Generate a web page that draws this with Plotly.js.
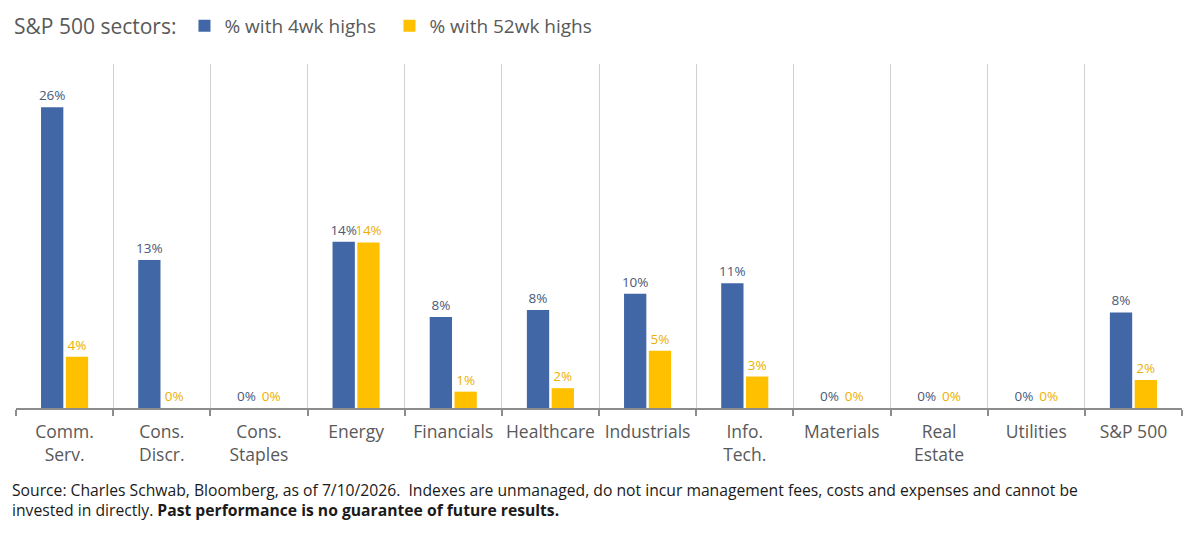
<!DOCTYPE html>
<html>
<head>
<meta charset="utf-8">
<script src="https://cdn.plot.ly/plotly-3.0.1.min.js"></script>
<style>html,body{margin:0;padding:0;background:#fff;}#chart{width:1200px;height:538px;}</style>
</head>
<body>
<div id="chart"></div>
<script>
const categories = ["Comm.<br>Serv.", "Cons.<br>Discr.", "Cons.<br>Staples", "Energy", "Financials", "Healthcare", "Industrials", "Info.<br>Tech.", "Materials", "Real<br>Estate", "Utilities", "S&P 500"];
const pct4wk = [25.8, 12.7, 0, 14.25, 7.8, 8.4, 9.8, 10.7, 0, 0, 0, 8.2];
const pct52wk = [4.4, 0, 0, 14.2, 1.4, 1.7, 4.9, 2.7, 0, 0, 0, 2.4];
const seriesNames = ["% with 4wk highs", "% with 52wk highs"];
const legendTitle = "S&P 500 sectors:";
const footnote = "Source: Charles Schwab, Bloomberg, as of 7/10/2026.  Indexes are unmanaged, do not incur management fees, costs and expenses and cannot be<br>invested in directly. <b>Past performance is no guarantee of future results.</b>";

const FONT = "'Open Sans', Roboto, sans-serif";
const LBL = "%{y:.0f}%";

const traces = [
  {
    type: "bar", x: categories, y: pct4wk, name: seriesNames[0],
    marker: {color: "#4167A6"},
    texttemplate: LBL, textposition: "outside", cliponaxis: false, constraintext: "none",
    textfont: {family: FONT, size: 13.5, color: "#4A5A78"},
    hoverinfo: "skip"
  },
  {
    type: "bar", x: categories, y: pct52wk, name: seriesNames[1],
    marker: {color: "#FFC000"},
    texttemplate: LBL, textposition: "outside", cliponaxis: false, constraintext: "none",
    textfont: {family: FONT, size: 13.5, color: "#EDB000"},
    hoverinfo: "skip"
  }
];

const layout = {
  width: 1200, height: 538,
  margin: {l: 16, r: 18, t: 64, b: 130},
  paper_bgcolor: "#fff", plot_bgcolor: "#fff",
  font: {family: FONT, color: "#595959"},
  barmode: "group", bargap: 0.49, bargroupgap: 0.1,
  showlegend: true,
  legend: {
    orientation: "h", xref: "container", yref: "container",
    x: 0.01, y: 0.952, xanchor: "left", yanchor: "middle",
    font: {family: FONT, size: 19, color: "#595959"},
    title: {text: legendTitle, side: "left", font: {family: FONT, size: 21, color: "#595959"}},
    itemwidth: 30, traceorder: "normal", entrywidth: 160
  },
  xaxis: {
    type: "category", tickson: "boundaries", tickangle: 0,
    showgrid: true, gridcolor: "#D0D0D0", gridwidth: 1,
    showline: true, linecolor: "#8C8C8C", linewidth: 2,
    ticks: "outside", ticklen: 6, tickcolor: "#8C8C8C", tickwidth: 2,
    ticklabelstandoff: 7,
    tickfont: {family: FONT, size: 17.5, color: "#595959"},
    fixedrange: true
  },
  yaxis: {
    range: [0, 29.5], visible: false, showgrid: false, zeroline: false, fixedrange: true
  },
  annotations: [
    {
      xref: "paper", yref: "paper", x: -0.005, y: -0.267,
      xanchor: "left", yanchor: "middle", align: "left", showarrow: false,
      text: footnote,
      font: {family: FONT, size: 15.7, color: "#1a1a1a"}
    }
  ]
};

Plotly.newPlot("chart", traces, layout, {displayModeBar: false, staticPlot: true});
</script>
</body>
</html>
